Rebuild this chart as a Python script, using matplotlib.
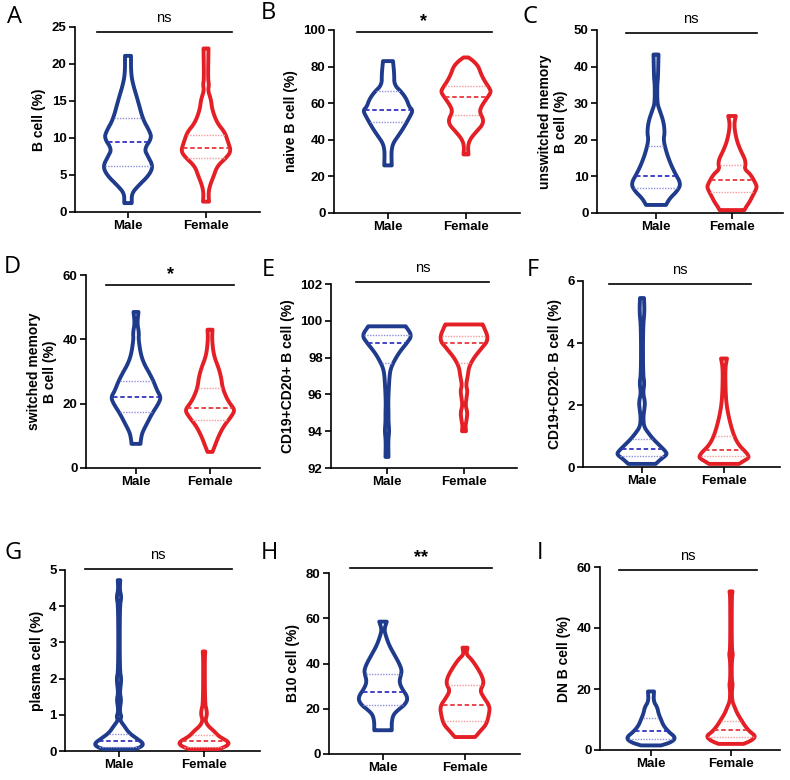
import numpy as np
import matplotlib
matplotlib.use("Agg")
import matplotlib.pyplot as plt

plt.rcParams['font.family'] = ['Liberation Sans', 'DejaVu Sans']

groups = ['Male', 'Female']
panel_letters = ['A', 'B', 'C', 'D', 'E', 'F', 'G', 'H', 'I']
ylabels = ['B cell (%)', 'naive B cell (%)', 'unswitched memory\nB cell (%)',
           'switched memory\nB cell (%)', 'CD19+CD20+ B cell (%)', 'CD19+CD20- B cell (%)',
           'plasma cell (%)', 'B10 cell (%)', 'DN B cell (%)']
yticks = [[0, 5, 10, 15, 20, 25], [0, 20, 40, 60, 80, 100], [0, 10, 20, 30, 40, 50],
          [0, 20, 40, 60], [92, 94, 96, 98, 100, 102], [0, 2, 4, 6],
          [0, 1, 2, 3, 4, 5], [0, 20, 40, 60, 80], [0, 20, 40, 60]]
signif = ['ns', '*', 'ns', '*', 'ns', 'ns', 'ns', '**', 'ns']
signif_y = [24.3, 99, 49.3, 57, 102.1, 5.9, 5.04, 82.4, 59.1]

# violin outlines: (value, relative half width)
a_male = [(1.2, .15), (2.5, .15), (3.5, .4), (5, .85), (6.2, 1.0), (7.5, .8), (8.5, .65),
          (10, .95), (11, .85), (12.5, .6), (15, .4), (17.5, .18), (19, .12), (21.1, .12)]
a_female = [(1.4, .12), (2.5, .1), (3.5, .15), (4.8, .3), (6.2, .45), (7.3, .8), (8.2, 1.0),
            (9.3, .9), (10.8, .75), (12, .45), (13.8, .25), (15.2, .2), (16.4, .08),
            (17.2, .12), (18, .08), (22.1, .1)]
b_male = [(26, .15), (30, .14), (34, .14), (38, .2), (42, .4), (46, .6), (52, .85), (56, 1.0),
          (58, .85), (62, .75), (66, .55), (70, .25), (76, .25), (83, .2)]
b_female = [(32, .1), (35, .08), (38, .1), (41, .2), (45, .45), (48, .65), (51, .7), (55, .55),
            (58, .6), (63, .85), (66, 1.0), (68, .95), (72, .75), (76, .6), (80, .5), (83, .3),
            (85, .1)]
c_male = [(2.2, .4), (4, .55), (6, .85), (8, 1.0), (11, .75), (14, .55), (17, .4), (20, .3),
          (22, .35), (25, .3), (28, .15), (30, .05), (35, .05), (37, .08), (43.3, .1)]
c_female = [(.8, .5), (1.5, .55), (3, .7), (5, .85), (7, 1.0), (8, .95), (10.5, .75), (12, .5),
            (13.5, .55), (15, .5), (17, .35), (20, .18), (24, .08), (26.5, .15)]
d_male = [(7.5, .18), (9, .2), (11, .25), (14, .45), (17, .65), (20, .9), (22, 1.0), (24, .85),
          (27, .7), (30, .5), (32, .35), (35, .2), (40, .1), (42, .12), (45, .05), (48.5, .1)]
d_female = [(5, .1), (7, .2), (10, .35), (13, .55), (16, .85), (18, 1.0), (20, .8), (22, .65),
            (25, .5), (28, .45), (31, .35), (35, .15), (40, .08), (43, .1)]
e_male = [(92.6, .06), (93.5, .05), (94, .09), (94.5, .06), (95, .06), (95.5, .05), (96, .06),
          (97, .1), (97.4, .15), (97.8, .28), (98.3, .5), (98.8, .8), (99.2, 1.0), (99.7, .75)]
e_female = [(94, .08), (94.3, .06), (94.6, .1), (95, .14), (95.4, .06), (95.8, .1), (96.2, .14),
            (96.5, .08), (97, .15), (97.5, .2), (98, .4), (98.5, .7), (99, 1.0), (99.8, .75)]
f_male = [(.1, .55), (.25, .75), (.4, 1.0), (.5, .95), (.7, .7), (.9, .45), (1.1, .25),
          (1.3, .08), (1.6, .05), (1.9, .1), (2.1, .12), (2.4, .04), (2.7, .1), (3.0, .04),
          (4.5, .04), (5.0, .1), (5.45, .08)]
f_female = [(.1, .6), (.2, .8), (.3, 1.0), (.4, .95), (.5, .85), (.7, .6), (1.0, .4), (1.5, .22),
            (2.0, .1), (2.5, .06), (3.2, .05), (3.5, .12)]
g_male = [(.05, .6), (.1, .85), (.2, 1.0), (.35, .7), (.5, .4), (.7, .2), (.85, .04), (.95, .1),
          (1.05, .04), (1.2, .04), (1.42, .09), (1.6, .03), (2.0, .1), (2.2, .03), (4.0, .03),
          (4.25, .1), (4.45, .03), (4.72, .05)]
g_female = [(.05, .6), (.15, .95), (.25, 1.0), (.4, .6), (.55, .4), (.7, .15), (.85, .05),
            (1.0, .12), (1.15, .1), (1.3, .04), (2.5, .03), (2.75, .05)]
h_male = [(10.5, .35), (12, .35), (14, .35), (17, .4), (19, .55), (22, .9), (25, 1.0), (29, .75),
          (32, .65), (35, .72), (37, .75), (40, .65), (44, .45), (48, .25), (52, .12), (55, .05),
          (58.5, .15)]
h_female = [(7.5, .4), (8, .45), (10, .6), (13, .85), (17, .95), (21, 1.0), (25, .75), (28, .6),
            (31, .75), (34, .7), (38, .5), (42, .25), (44, .05), (47, .1)]
i_male = [(1.5, .4), (2.5, .8), (4, 1.0), (6, .7), (8, .5), (10, .4), (12, .3), (14, .25),
          (16, .1), (19.2, .12)]
i_female = [(2, .5), (3, .8), (4.5, 1.0), (6, .75), (8, .55), (10, .4), (12, .25), (14, .15),
            (16, .05), (19, .03), (21.5, .07), (23, .03), (29, .03), (31.5, .08), (33, .03),
            (50, .03), (52, .06)]

# quartiles (Q1, median, Q3)
a_quart = [[6.2, 9.5, 12.7], [7.3, 8.6, 10.4]]
b_quart = [[49.5, 56.3, 66.5], [53.5, 63.5, 69.5]]
c_quart = [[6.8, 10, 18.3], [5.8, 9, 13]]
d_quart = [[17.5, 22, 27], [15, 18.5, 25]]
e_quart = [[97.7, 98.8, 99.25], [97.7, 98.8, 99.15]]
f_quart = [[0.35, 0.58, 0.9], [0.35, 0.55, 1.0]]
g_quart = [[0.1, 0.28, 0.48], [0.12, 0.28, 0.45]]
h_quart = [[21.5, 27.5, 35.5], [14.5, 21.8, 30.5]]
i_quart = [[3.5, 6.2, 10.5], [4.2, 6.5, 9.5]]

outlines = [(a_male, a_female), (b_male, b_female), (c_male, c_female), (d_male, d_female),
            (e_male, e_female), (f_male, f_female), (g_male, g_female), (h_male, h_female),
            (i_male, i_female)]
quarts = [a_quart, b_quart, c_quart, d_quart, e_quart, f_quart, g_quart, h_quart, i_quart]

# axes boxes in pixels: left, top, right, bottom, male x, female x
boxes = [(75, 27, 260, 212, 128, 206), (334, 30, 520, 213, 388, 466), (597, 30, 783, 213, 656, 732),
         (86, 275, 260, 468, 136, 210), (331, 284, 517, 468, 387, 464), (583, 281, 780, 467, 642, 724),
         (65, 570, 260, 751, 119, 204), (329, 573, 520, 754, 383, 465), (600, 567, 780, 750, 651, 731)]
letter_pos = [(7, 5), (261, 1), (523, 5), (4, 255), (262, 258), (527, 258), (4, 541), (261, 541), (537, 541)]

W, H = 790, 780
colors = ['#1f3b8c', '#e41f26']
med_colors = ['#3535c0', '#e8383e']
q_colors = ['#8f8fe0', '#f39a9c']


def smooth(ys, ws, n=2):
    # corner cutting so the outline looks rounded, ends kept
    for _ in range(n):
        ny, nw = [ys[0]], [ws[0]]
        for i in range(len(ys) - 1):
            ny += [0.75 * ys[i] + 0.25 * ys[i + 1], 0.25 * ys[i] + 0.75 * ys[i + 1]]
            nw += [0.75 * ws[i] + 0.25 * ws[i + 1], 0.25 * ws[i] + 0.75 * ws[i + 1]]
        ny.append(ys[-1])
        nw.append(ws[-1])
        ys, ws = np.array(ny), np.array(nw)
    return ys, ws


fig = plt.figure(figsize=(7.9, 7.8), dpi=100)

for k in range(9):
    l, t, r, b, mx, fx = boxes[k]
    ax = fig.add_axes([l / W, 1 - b / H, (r - l) / W, (b - t) / H])
    sp = fx - mx
    ax.set_xlim(1 - (mx - l) / sp, 2 + (r - fx) / sp)
    ax.set_ylim(yticks[k][0], yticks[k][-1])
    hw = 25.0 / sp
    for j in range(2):
        prof = np.array(outlines[k][j])
        ys, ws = smooth(prof[:, 0], prof[:, 1] * hw)
        cx = j + 1
        xs = np.concatenate([cx - ws, (cx + ws)[::-1]])
        yy = np.concatenate([ys, ys[::-1]])
        ax.fill(xs, yy, facecolor='white', edgecolor=colors[j], linewidth=2.8,
                joinstyle='round', zorder=3)
        q1, med, q3 = quarts[k][j]
        for val, c, ls, lw in [(q1, q_colors[j], ':', 1.0), (q3, q_colors[j], ':', 1.0),
                               (med, med_colors[j], '--', 1.3)]:
            wv = np.interp(val, ys, ws) - 0.012
            ax.plot([cx - wv, cx + wv], [val, val], color=c, linestyle=ls, linewidth=lw,
                    dashes=(2.5, 1.5) if ls == '--' else (1, 1), zorder=4)
    ax.set_xticks([1, 2])
    ax.set_xticklabels(groups, fontsize=9.5, fontweight='bold')
    ax.set_yticks(yticks[k])
    ax.set_yticklabels([str(v) for v in yticks[k]], fontsize=9.5, fontweight='bold')
    ax.set_ylabel(ylabels[k], fontsize=10, fontweight='bold', labelpad=4)
    ax.spines['top'].set_visible(False)
    ax.spines['right'].set_visible(False)
    for s in ['left', 'bottom']:
        ax.spines[s].set_linewidth(1.2)
    ax.tick_params(width=1.2, length=4, pad=2)
    ax.plot([0.6, 2.33], [signif_y[k], signif_y[k]], color='black', linewidth=1.2, clip_on=False)
    is_ns = signif[k] == 'ns'
    ax.annotate(signif[k], (1.46, signif_y[k]), xytext=(0, 5 if is_ns else 1),
                textcoords='offset points', ha='center', va='bottom',
                fontsize=10.5 if is_ns else 13, fontweight='normal' if is_ns else 'bold',
                annotation_clip=False)
    lx, ly = letter_pos[k]
    fig.text(lx / W, 1 - ly / H, panel_letters[k], fontsize=17, va='top', ha='left',
             family=['Open Sans', 'DejaVu Sans'], fontweight='normal', color='black')

fig.savefig('out.png', dpi=100)
